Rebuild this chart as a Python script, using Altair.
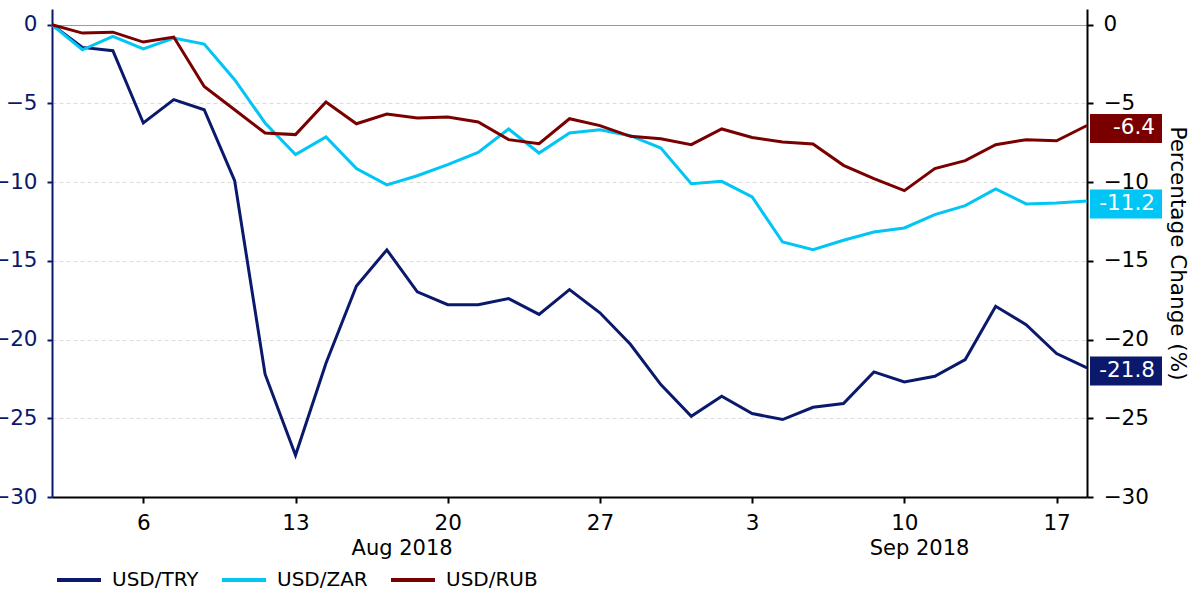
import altair as alt
import pandas as pd

# Business days covered by the series
dates = [
    "2018-08-01", "2018-08-02", "2018-08-03",
    "2018-08-06", "2018-08-07", "2018-08-08", "2018-08-09", "2018-08-10",
    "2018-08-13", "2018-08-14", "2018-08-15", "2018-08-16", "2018-08-17",
    "2018-08-20", "2018-08-21", "2018-08-22", "2018-08-23", "2018-08-24",
    "2018-08-27", "2018-08-28", "2018-08-29", "2018-08-30", "2018-08-31",
    "2018-09-03", "2018-09-04", "2018-09-05", "2018-09-06", "2018-09-07",
    "2018-09-10", "2018-09-11", "2018-09-12", "2018-09-13", "2018-09-14",
    "2018-09-17", "2018-09-18",
]

pairs = ["USD/TRY", "USD/ZAR", "USD/RUB"]
colors = ["#0a196b", "#00c5f5", "#7a0000"]

# Percentage change since 1 Aug 2018
usd_try = [0, -1.44, -1.65, -6.24, -4.76, -5.4, -9.9, -22.2, -27.35, -21.5,
           -16.6, -14.3, -16.97, -17.78, -17.78, -17.4, -18.4, -16.83, -18.3, -20.3,
           -22.86, -24.87, -23.6, -24.7, -25.08, -24.3, -24.06, -22.05, -22.69, -22.33,
           -21.27, -17.88, -19.05, -20.89, -21.8]
usd_zar = [0, -1.59, -0.74, -1.54, -0.85, -1.23, -3.49, -6.24, -8.25, -7.13,
           -9.14, -10.17, -9.59, -8.89, -8.11, -6.62, -8.15, -6.88, -6.67, -7.05,
           -7.83, -10.1, -9.95, -10.94, -13.8, -14.29, -13.69, -13.17, -12.91, -12.06,
           -11.49, -10.43, -11.38, -11.32, -11.2]
usd_rub = [0, -0.53, -0.47, -1.1, -0.78, -3.92, -5.4, -6.88, -6.98, -4.91,
           -6.29, -5.67, -5.93, -5.86, -6.18, -7.3, -7.56, -5.97, -6.41, -7.09,
           -7.24, -7.62, -6.62, -7.16, -7.45, -7.58, -8.93, -9.78, -10.54, -9.14,
           -8.63, -7.62, -7.3, -7.37, -6.4]

y_ticks = [0, -5, -10, -15, -20, -25, -30]

FONT = "DejaVu Sans"
NAVY = colors[0]
W, H = 1035, 488
AXIS_FS = 21.5

# Long table: one row per pair and business day
rows = []
for pair, vals in zip(pairs, [usd_try, usd_zar, usd_rub]):
    for i, (d, v) in enumerate(zip(dates, vals)):
        rows.append({"idx": i, "date": d, "pair": pair, "value": v})
df = pd.DataFrame(rows)

# Latest value of each pair for the end-of-line tags
ends = pd.DataFrame({
    "pair": pairs,
    "value": [usd_try[-1], usd_zar[-1], usd_rub[-1]],
})
ends["label"] = ends["value"].map(lambda v: f"{v:.1f}")

# Day-of-month tick labels on Mondays, month names centred over each month
parsed = pd.to_datetime(pd.Series(dates))
monday_idx = [i for i, d in enumerate(parsed) if d.weekday() == 0]
day_list = "[" + ",".join(f"'{d.day}'" for d in parsed) + "]"
label_expr = f"{day_list}[datum.value]"

month_rows = []
month_keys = parsed.dt.to_period("M")
uniq = list(dict.fromkeys(month_keys))
for k, m in enumerate(uniq):
    start = int(month_keys[month_keys == m].index[0])
    if k + 1 < len(uniq):
        stop = int(month_keys[month_keys == uniq[k + 1]].index[0])
    else:
        stop = len(dates) - 1
    month_rows.append({"center": (start + stop) / 2,
                       "month": parsed[start].strftime("%b %Y")})
months = pd.DataFrame(month_rows)

x_scale = alt.Scale(domain=[0, len(dates) - 1], nice=False, zero=False)
y_scale = alt.Scale(domain=[-30, 1], nice=False, zero=False)
color_scale = alt.Scale(domain=pairs, range=colors)

x_axis = alt.Axis(
    values=monday_idx, labelExpr=label_expr, title=None, grid=False,
    domainColor="black", domainWidth=2, tickColor="black", tickWidth=2,
    tickSize=6, labelPadding=9, labelFontSize=AXIS_FS, labelFont=FONT,
    labelColor="black", labelFlush=False,
)

left_axis = alt.Axis(
    orient="left", values=y_ticks, title=None,
    domainColor=NAVY, domainWidth=2, tickColor=NAVY, tickWidth=2, tickSize=5,
    labelPadding=10, labelFontSize=AXIS_FS, labelFont=FONT, labelColor=NAVY,
    grid=True, gridWidth=1,
    gridColor={"condition": {"test": "datum.value === 0", "value": "#9a9a9a"},
               "value": "#dcdcdc"},
    gridDash={"condition": {"test": "datum.value === 0", "value": []},
              "value": [4, 3]},
)

right_axis = alt.Axis(
    orient="right", values=y_ticks, title="Percentage Change (%)",
    domainColor="black", domainWidth=2, tickColor="black", tickWidth=2, tickSize=6,
    labelPadding=10, labelFontSize=AXIS_FS, labelFont=FONT, labelColor="black",
    grid=False, titleFont=FONT, titleFontSize=AXIS_FS, titleFontWeight="normal",
    titleColor="black", titleAngle=90, titleX=89, titleY=H / 2,
    titleAlign="center", titleBaseline="middle",
)

legend = alt.Legend(
    orient="none", legendX=3, legendY=547, direction="horizontal", title=None,
    symbolType="stroke", symbolSize=1936, symbolStrokeWidth=4,
    labelFontSize=20, labelFont=FONT, labelColor="black", labelOffset=9,
    columnPadding=15, padding=0,
)

lines = alt.Chart(df).mark_line(strokeWidth=3).encode(
    x=alt.X("idx:Q", scale=x_scale, axis=x_axis),
    y=alt.Y("value:Q", scale=y_scale, axis=left_axis),
    color=alt.Color("pair:N", scale=color_scale, legend=legend, sort=pairs),
    order="idx:Q",
)

tags = alt.Chart(ends).mark_rect(height=29, yOffset=3).encode(
    x=alt.value(W + 3),
    x2=alt.value(W + 75),
    y=alt.Y("value:Q", scale=y_scale, axis=right_axis),
    color=alt.Color("pair:N", scale=color_scale, legend=None),
)

tag_text = alt.Chart(ends).mark_text(
    align="right", baseline="middle", dy=3, color="white",
    font=FONT, fontSize=AXIS_FS,
).encode(
    x=alt.value(W + 68),
    y=alt.Y("value:Q", scale=y_scale, axis=None),
    text="label:N",
)

month_text = alt.Chart(months).mark_text(
    align="center", baseline="middle", font=FONT, fontSize=21, color="black",
).encode(
    x=alt.X("center:Q", scale=x_scale, axis=x_axis),
    y=alt.value(H + 52),
    text="month:N",
)

chart = (
    alt.layer(lines, tags, tag_text, month_text)
    .resolve_axis(y="independent")
    .properties(
        width=W, height=H,
        autosize=alt.AutoSizeParams(type="none"),
        padding={"left": 52, "top": 9, "right": 102, "bottom": 95},
        background="white",
    )
    .configure_view(stroke=None)
)

chart.save("out.html", embed_options={"renderer": "svg", "actions": False})
